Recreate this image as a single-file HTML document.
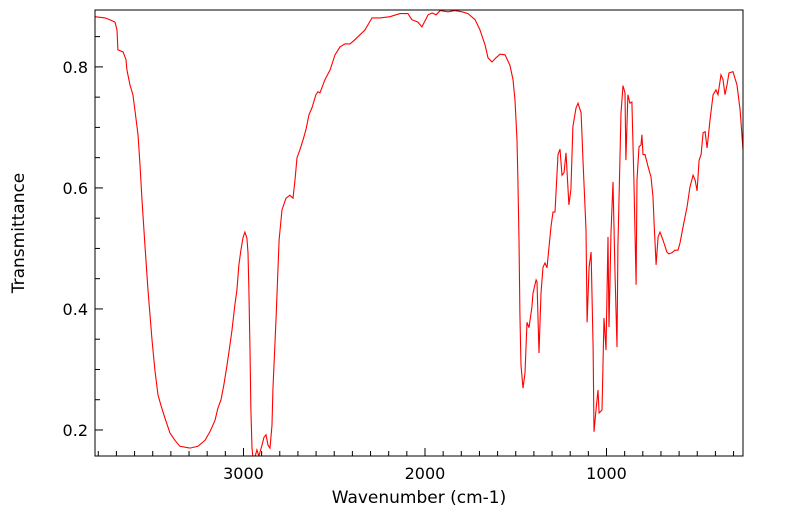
<!DOCTYPE html>
<html><head><meta charset="utf-8"><style>
body{margin:0;background:#fff;font-family:"DejaVu Sans","Liberation Sans",sans-serif}
svg{display:block}
</style></head><body>
<svg id="c" width="799" height="516" font-family="DejaVu Sans, Liberation Sans, sans-serif"></svg>
<script>
const wavenumbers=[3818,3763,3736,3708,3697,3692,3664,3647,3642,3625,3609,3598,3581,3570,3559,3543,3526,3504,3488,3471,3455,3433,3405,3378,3350,3295,3251,3212,3185,3157,3141,3124,3108,3091,3074,3063,3047,3036,3025,3014,3003,2992,2981,2975,2970,2964,2959,2953,2948,2937,2926,2915,2898,2887,2876,2865,2854,2843,2838,2821,2804,2788,2766,2744,2727,2716,2705,2689,2672,2656,2639,2623,2601,2590,2579,2551,2523,2496,2468,2441,2413,2386,2331,2292,2248,2193,2138,2094,2072,2039,2017,2000,1983,1961,1939,1917,1873,1835,1796,1763,1724,1697,1669,1653,1631,1609,1587,1559,1532,1515,1504,1493,1488,1482,1477,1471,1460,1449,1438,1427,1411,1405,1388,1383,1372,1361,1350,1339,1328,1317,1306,1295,1284,1267,1256,1245,1234,1223,1207,1196,1185,1168,1157,1140,1129,1113,1107,1096,1085,1074,1069,1058,1047,1041,1025,1014,1003,992,986,975,964,953,942,937,920,909,898,893,882,871,860,849,837,832,821,810,805,799,788,771,755,744,738,727,716,705,689,667,656,639,623,606,595,578,556,540,523,512,501,490,479,468,457,446,430,413,397,386,369,358,347,336,325,303,281,264,248];
const transmittance=[0.883,0.881,0.878,0.874,0.861,0.828,0.825,0.812,0.795,0.770,0.754,0.729,0.688,0.638,0.580,0.506,0.431,0.349,0.299,0.258,0.241,0.220,0.195,0.183,0.173,0.170,0.173,0.183,0.197,0.216,0.236,0.250,0.275,0.307,0.341,0.365,0.407,0.431,0.473,0.497,0.517,0.527,0.517,0.493,0.431,0.332,0.233,0.170,0.155,0.155,0.167,0.157,0.175,0.188,0.192,0.175,0.170,0.208,0.266,0.382,0.514,0.564,0.583,0.588,0.583,0.613,0.650,0.663,0.679,0.696,0.721,0.732,0.754,0.759,0.757,0.779,0.795,0.820,0.833,0.838,0.838,0.845,0.861,0.881,0.881,0.883,0.888,0.888,0.878,0.874,0.866,0.876,0.886,0.889,0.886,0.893,0.891,0.893,0.891,0.888,0.878,0.861,0.836,0.815,0.808,0.815,0.821,0.820,0.803,0.779,0.745,0.679,0.613,0.514,0.393,0.307,0.269,0.294,0.378,0.369,0.403,0.426,0.448,0.445,0.327,0.426,0.469,0.476,0.468,0.502,0.536,0.560,0.560,0.655,0.664,0.621,0.625,0.658,0.572,0.597,0.701,0.732,0.740,0.724,0.641,0.531,0.378,0.469,0.494,0.337,0.197,0.233,0.266,0.228,0.233,0.385,0.332,0.519,0.370,0.526,0.610,0.459,0.337,0.502,0.724,0.769,0.757,0.646,0.754,0.740,0.742,0.613,0.440,0.613,0.668,0.671,0.688,0.655,0.655,0.635,0.618,0.585,0.542,0.473,0.519,0.527,0.514,0.494,0.491,0.493,0.497,0.497,0.509,0.536,0.569,0.602,0.621,0.613,0.595,0.646,0.655,0.691,0.693,0.666,0.712,0.754,0.762,0.754,0.787,0.779,0.754,0.770,0.790,0.792,0.770,0.729,0.663];
const xTicks=[3000,2000,1000];
const yTicks=[0.2,0.4,0.6,0.8];
const L=95,R=743,T=10,B=456;
const wLeft=3818,wRight=248,tTop=0.894,tBot=0.157;
const X=w=>L+(wLeft-w)/(wLeft-wRight)*(R-L);
const Y=t=>T+(tTop-t)/(tTop-tBot)*(B-T);
const NS='http://www.w3.org/2000/svg';
const svg=document.getElementById('c');
function mk(tag,attrs,parent){const e=document.createElementNS(NS,tag);for(const k in attrs)e.setAttribute(k,attrs[k]);(parent||svg).appendChild(e);return e;}
const defs=mk('defs',{});
const cp=mk('clipPath',{id:'pc'},defs);mk('rect',{x:L,y:T,width:R-L,height:B-T},cp);
let d='';wavenumbers.forEach((w,i)=>{d+=(i?'L':'M')+X(w).toFixed(1)+','+Y(transmittance[i]).toFixed(1);});
const line=mk('path',{d:d,fill:'none',stroke:'#ff0000','stroke-width':1.1,'clip-path':'url(#pc)'});


const fr=mk('rect',{x:L,y:T,width:R-L,height:B-T,fill:'none',stroke:'#000','stroke-width':1});


for(let v=0.2;v<=0.891;v+=0.05){const y=Y(v);const major=Math.abs(v*10-Math.round(v*10))<0.01&&Math.round(v*10)%2===0;
 const t=mk('line',{x1:L,x2:L+(major?8:5),y1:y,y2:y,stroke:'#000','stroke-width':1});
 
 }
yTicks.forEach(v=>{const t=mk('text',{x:88,y:Y(v)+6,'text-anchor':'end','font-size':16,fill:'#000'});t.textContent=v.toFixed(1);
 
 });
for(let w=300;w<=3800;w+=100){const x=X(w);const major=w%1000===0;
 const t=mk('line',{x1:x,x2:x,y1:B,y2:B-(major?8:5),stroke:'#000','stroke-width':1});
 
 }
xTicks.forEach(w=>{const t=mk('text',{x:X(w),y:479,'text-anchor':'middle','font-size':16,fill:'#000'});t.textContent=w;
 
 });
const xt=mk('text',{x:419,y:503,'text-anchor':'middle','font-size':17,fill:'#000'});xt.textContent='Wavenumber (cm-1)';


const yt=mk('text',{x:0,y:0,'text-anchor':'middle','font-size':17,fill:'#000',transform:'translate(24,233) rotate(-90)'});yt.textContent='Transmittance';


</script>
</body></html>
